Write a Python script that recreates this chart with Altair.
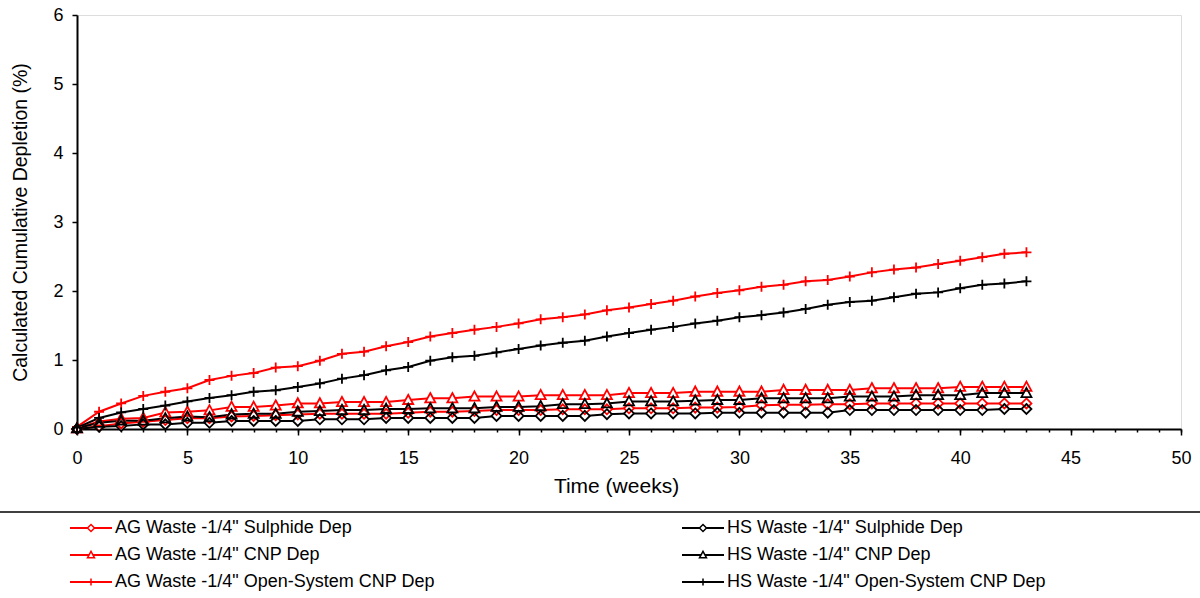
import altair as alt
import pandas as pd

weeks = list(range(44))

ag_sulphide = [0.0, 0.04, 0.08, 0.105, 0.13, 0.155, 0.155, 0.18, 0.19, 0.2, 0.21, 0.22, 0.22, 0.22, 0.22,
               0.235, 0.25, 0.25, 0.26, 0.275, 0.275, 0.275, 0.285, 0.285, 0.285, 0.3, 0.3, 0.3, 0.31, 0.31,
               0.32, 0.345, 0.35, 0.35, 0.36, 0.36, 0.37, 0.37, 0.37, 0.37, 0.37, 0.37, 0.37, 0.37]
ag_cnp = [0.01, 0.11, 0.15, 0.16, 0.24, 0.25, 0.27, 0.32, 0.32, 0.34, 0.37, 0.37, 0.39, 0.39, 0.39,
          0.42, 0.445, 0.445, 0.47, 0.47, 0.47, 0.49, 0.49, 0.49, 0.49, 0.52, 0.52, 0.52, 0.54, 0.54,
          0.54, 0.54, 0.565, 0.565, 0.565, 0.565, 0.59, 0.59, 0.59, 0.59, 0.61, 0.61, 0.61, 0.61]
ag_open = [0.03, 0.25, 0.37, 0.48, 0.54, 0.59, 0.71, 0.77, 0.81, 0.89, 0.91, 0.99, 1.09, 1.12, 1.20,
           1.26, 1.34, 1.39, 1.44, 1.48, 1.53, 1.59, 1.62, 1.66, 1.72, 1.76, 1.81, 1.86, 1.92, 1.97,
           2.01, 2.06, 2.09, 2.14, 2.16, 2.21, 2.27, 2.31, 2.34, 2.39, 2.44, 2.49, 2.54, 2.56]
hs_sulphide = [0.0, 0.034, 0.043, 0.067, 0.067, 0.09, 0.09, 0.116, 0.116, 0.116, 0.116, 0.14, 0.14, 0.14, 0.16,
               0.16, 0.16, 0.16, 0.16, 0.19, 0.19, 0.19, 0.19, 0.19, 0.215, 0.225, 0.225, 0.225, 0.225, 0.235,
               0.235, 0.237, 0.237, 0.237, 0.237, 0.275, 0.275, 0.275, 0.275, 0.275, 0.275, 0.275, 0.29, 0.29]
hs_cnp = [0.01, 0.09, 0.12, 0.12, 0.155, 0.18, 0.17, 0.21, 0.22, 0.22, 0.25, 0.26, 0.275, 0.275, 0.29,
          0.29, 0.30, 0.30, 0.30, 0.32, 0.32, 0.33, 0.36, 0.36, 0.37, 0.40, 0.40, 0.40, 0.41, 0.42,
          0.42, 0.445, 0.445, 0.445, 0.445, 0.47, 0.47, 0.47, 0.49, 0.49, 0.49, 0.52, 0.52, 0.52]
hs_open = [0.02, 0.16, 0.24, 0.29, 0.34, 0.40, 0.45, 0.49, 0.54, 0.56, 0.61, 0.66, 0.73, 0.78, 0.85,
           0.90, 0.99, 1.04, 1.06, 1.11, 1.16, 1.21, 1.25, 1.28, 1.34, 1.39, 1.44, 1.48, 1.53, 1.57,
           1.62, 1.65, 1.69, 1.74, 1.80, 1.84, 1.86, 1.91, 1.96, 1.98, 2.04, 2.09, 2.11, 2.14]

ag_names = ['AG Waste -1/4" Sulphide Dep', 'AG Waste -1/4" CNP Dep', 'AG Waste -1/4" Open-System CNP Dep']
hs_names = ['HS Waste -1/4" Sulphide Dep', 'HS Waste -1/4" CNP Dep', 'HS Waste -1/4" Open-System CNP Dep']
ag_values = [ag_sulphide, ag_cnp, ag_open]
hs_values = [hs_sulphide, hs_cnp, hs_open]

RED = "#ff0000"
BLACK = "#000000"
diamond = "M0,-1L1,0L0,1L-1,0Z"
triangle = "M0,-1.05L1,0.8L-1,0.8Z"
plus = "M-1,0H1M0,-1V1"
shapes = [diamond, triangle, plus]


def long_table(names, vals_list):
    rows = []
    for n, vals in zip(names, vals_list):
        for w, v in zip(weeks, vals):
            rows.append({"week": w, "value": v, "s": n})
    return pd.DataFrame(rows)


df_ag = long_table(ag_names, ag_values)
df_hs = long_table(hs_names, hs_values)

FONT = "Liberation Sans"

xscale = alt.Scale(domain=[0, 50], nice=False)
yscale = alt.Scale(domain=[0, 6], nice=False)

yaxis = alt.Axis(values=[0, 1, 2, 3, 4, 5, 6], tickSize=5, tickWidth=1.5, tickColor="black",
                 domainColor="black", domainWidth=2, labelFontSize=18, labelFont=FONT,
                 labelColor="black", labelPadding=9, grid=False,
                 title="Calculated Cumulative Depletion (%)", titleFontSize=19.5, titleFont=FONT,
                 titleFontWeight="normal", titleColor="black", titleX=-51, titleY=207,
                 titleBaseline="alphabetic")

xaxis_main = alt.Axis(values=list(range(0, 51, 5)), tickSize=6, tickWidth=1.5, tickColor="black",
                      domainColor="black", domainWidth=2, labelFontSize=18, labelFont=FONT,
                      labelColor="black", labelPadding=14, labelFlush=False, grid=False, orient="bottom",
                      title="Time (weeks)", titleFontSize=21, titleFont=FONT, titleFontWeight="normal",
                      titleColor="black", titleX=539, titleY=63, titleBaseline="alphabetic")

xaxis_minor = alt.Axis(values=list(range(0, 51)), tickSize=3, tickWidth=1.5, tickColor="black",
                       domain=False, labels=False, grid=False, orient="bottom", title=None)

LEG_Y = 504
COL1_X = 5
COL2_X = 617


def legend(x, visible_labels, **extra):
    return alt.Legend(orient="none", legendX=x, legendY=LEG_Y, symbolSize=49,
                      labelFontSize=18, labelFont=FONT, labelColor="black", labelOffset=15,
                      labelOpacity=1 if visible_labels else 0,
                      rowPadding=9, title=None, padding=0, labelLimit=0, **extra)


def line_layer(df, names, color, x_axis, legx):
    return alt.Chart(df).mark_line(strokeWidth=2).encode(
        x=alt.X("week:Q", scale=xscale, axis=x_axis),
        y=alt.Y("value:Q", scale=yscale, axis=yaxis),
        color=alt.Color("s:N", scale=alt.Scale(domain=names, range=[color] * 3),
                        legend=legend(legx, True, symbolType="M-6,0H6", symbolStrokeWidth=2)),
    )


def fill_layer(df, names, legx):
    # white backing of the hollow markers
    return alt.Chart(df).mark_point(size=100, filled=True, color="white", opacity=1).encode(
        x=alt.X("week:Q", scale=xscale, axis=None),
        y=alt.Y("value:Q", scale=yscale, axis=yaxis),
        shape=alt.Shape("s:N", scale=alt.Scale(domain=names, range=shapes),
                        legend=legend(legx, False, symbolFillColor="white")),
    )


def point_layer(df, names, color, x_axis, legx):
    return alt.Chart(df).mark_point(size=100, strokeWidth=1.8, filled=False, color=color, opacity=1).encode(
        x=alt.X("week:Q", scale=xscale, axis=x_axis),
        y=alt.Y("value:Q", scale=yscale, axis=yaxis),
        shape=alt.Shape("s:N", scale=alt.Scale(domain=names, range=shapes),
                        legend=legend(legx, False, symbolStrokeWidth=1.5, symbolStrokeColor=color)),
    )


ag_lines = line_layer(df_ag, ag_names, RED, xaxis_main, COL1_X)
hs_lines = line_layer(df_hs, hs_names, BLACK, None, COL2_X)
ag_fill = fill_layer(df_ag, ag_names, COL1_X)
hs_fill = fill_layer(df_hs, hs_names, COL2_X)
ag_points = point_layer(df_ag, ag_names, RED, xaxis_minor, COL1_X)
hs_points = point_layer(df_hs, hs_names, BLACK, None, COL2_X)

separator = alt.Chart(pd.DataFrame({"r": [0]})).mark_rule(color="black", strokeWidth=1.5).encode(
    x=alt.value(-77), x2=alt.value(1123), y=alt.value(497)
)

chart = alt.layer(ag_lines, hs_lines, ag_fill, hs_fill, ag_points, hs_points, separator).resolve_scale(
    color="independent", shape="independent"
).resolve_axis(x="independent").properties(
    width=1104, height=414,
    autosize=alt.AutoSizeParams(type="none"),
    padding={"left": 77, "top": 15, "right": 19, "bottom": 169},
    background="white",
).configure_view(stroke="black", strokeWidth=1.5).configure(font=FONT)

chart.save("out.html", embed_options={"renderer": "svg", "actions": False})
